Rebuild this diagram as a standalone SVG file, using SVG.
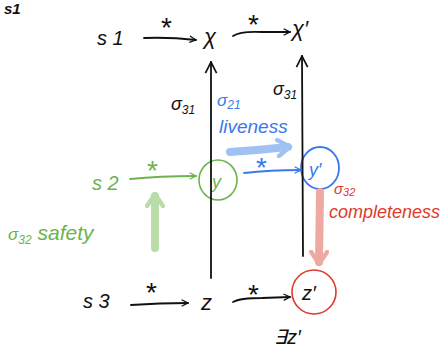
<svg xmlns="http://www.w3.org/2000/svg" width="445" height="352" viewBox="0 0 445 352">
<defs>
<style>
.t{font-family:"Liberation Sans",sans-serif;font-style:italic}
.st{font-family:"Liberation Sans",sans-serif;font-size:28px}
.k{fill:#111}
.g{fill:#6cb44c}
.b{fill:#3a78ec}
.r{fill:#e03a2a}
.ln{fill:none;stroke-width:1.8;stroke-linecap:round;stroke-linejoin:round}
</style>
<marker id="ak" viewBox="0 0 10 10" refX="9" refY="5" markerWidth="8" markerHeight="8" orient="auto" markerUnits="userSpaceOnUse"><path d="M1,1 L9,5 L1,9" fill="none" stroke="#111" stroke-width="1.6"/></marker>
<marker id="akv" viewBox="0 0 10 10" refX="9" refY="5" markerWidth="14" markerHeight="14" orient="auto" markerUnits="userSpaceOnUse"><path d="M1,1 L9,5 L1,9" fill="none" stroke="#111" stroke-width="1.2"/></marker>
<marker id="ag" viewBox="0 0 10 10" refX="9" refY="5" markerWidth="8" markerHeight="8" orient="auto" markerUnits="userSpaceOnUse"><path d="M1,1 L9,5 L1,9" fill="none" stroke="#6cb44c" stroke-width="1.6"/></marker>
<marker id="ab" viewBox="0 0 10 10" refX="9" refY="5" markerWidth="8" markerHeight="8" orient="auto" markerUnits="userSpaceOnUse"><path d="M1,1 L9,5 L1,9" fill="none" stroke="#3a78ec" stroke-width="1.6"/></marker>
<marker id="alb" viewBox="0 0 10 10" refX="6" refY="5" markerWidth="20" markerHeight="20" orient="auto" markerUnits="userSpaceOnUse"><path d="M1,1 L7,5 L1,9" fill="none" stroke="#9fc1f4" stroke-width="2.2" stroke-linecap="round" stroke-linejoin="round"/></marker>
<marker id="alg" viewBox="0 0 10 10" refX="6" refY="5" markerWidth="20" markerHeight="20" orient="auto" markerUnits="userSpaceOnUse"><path d="M1,1 L7,5 L1,9" fill="none" stroke="#b9dca8" stroke-width="2.2" stroke-linecap="round" stroke-linejoin="round"/></marker>
<marker id="alr" viewBox="0 0 10 10" refX="6" refY="5" markerWidth="20" markerHeight="20" orient="auto" markerUnits="userSpaceOnUse"><path d="M1,1 L7,5 L1,9" fill="none" stroke="#eeaaa2" stroke-width="2.2" stroke-linecap="round" stroke-linejoin="round"/></marker>
</defs>
<rect width="445" height="352" fill="#fff"/>

<text class="t k" x="4" y="14" font-size="15" font-weight="bold">s1</text>

<g id="s1"><text class="t k" x="97" y="45" font-size="20">s 1</text></g>
<g id="x"><text class="t k" x="204" y="44" font-size="22">χ</text></g>
<g id="xp"><text class="t k" x="292" y="36" font-size="22">χ′</text></g>
<g id="s2"><text class="t g" x="92" y="190" font-size="20">s 2</text></g>
<g id="y"><ellipse cx="218" cy="180" rx="19" ry="20" fill="none" stroke="#6cb44c" stroke-width="1.6"/><text class="t g" x="212" y="188" font-size="18">y</text></g>
<g id="yp"><ellipse cx="320" cy="168" rx="19" ry="21" fill="none" stroke="#3a78ec" stroke-width="1.8"/><text class="t b" x="309" y="176" font-size="18">y′</text></g>
<g id="s3"><text class="t k" x="83" y="308" font-size="20">s 3</text></g>
<g id="z"><text class="t k" x="201" y="310" font-size="22">z</text></g>
<g id="zp"><circle cx="314" cy="292" r="22" fill="none" stroke="#e03a2a" stroke-width="1.6"/><text class="t k" x="302" y="300" font-size="20">z′</text></g>
<g id="exists"><text class="t k" x="274" y="344" font-size="20">∃z′</text></g>

<g id="labels">
<text class="t k" x="171" y="110" font-size="18">σ<tspan font-size="12" dy="4">31</tspan></text>
<text class="t k" x="273" y="95" font-size="18">σ<tspan font-size="12" dy="4">31</tspan></text>
<text class="t b" x="217" y="106" font-size="17">σ<tspan font-size="12" dy="3">21</tspan></text>
<text class="t b" x="219" y="133" font-size="19">liveness</text>
<text class="t g" x="8" y="240" font-size="17">σ<tspan font-size="12" dy="4">32</tspan><tspan dy="-4" font-size="21"> safety</tspan></text>
<text class="t r" x="334" y="194" font-size="15">σ<tspan font-size="11" dy="2">32</tspan></text>
<text class="t r" x="329" y="218" font-size="19" textLength="111" lengthAdjust="spacingAndGlyphs">completeness</text>
</g>

<g id="connectors">
<path class="ln" d="M144,38 Q170,37 196,40" stroke="#111" marker-end="url(#ak)"/>
<text class="st k" x="161" y="37">*</text>
<path class="ln" d="M233,36 Q240,31 262,32 L290,32" stroke="#111" marker-end="url(#ak)"/>
<text class="st k" x="248" y="34">*</text>

<path class="ln" d="M211,278 L211,62" stroke="#111" stroke-width="1.4" marker-end="url(#akv)"/>
<path class="ln" d="M303,256 L302,56" stroke="#111" stroke-width="1.4" marker-end="url(#akv)"/>

<path class="ln" d="M130,179 Q160,176 196,176" stroke="#6cb44c" marker-end="url(#ag)"/>
<text class="st g" x="147" y="180">*</text>
<path class="ln" d="M244,173 Q270,170 301,170" stroke="#3a78ec" marker-end="url(#ab)"/>
<text class="st b" x="256" y="177">*</text>

<path d="M230,152 Q260,150 288,147" fill="none" stroke="#9fc1f4" stroke-width="8" stroke-linecap="round" marker-end="url(#alb)"/>
<path d="M155,248 L155,196" fill="none" stroke="#b9dca8" stroke-width="8" stroke-linecap="round" marker-end="url(#alg)"/>
<path d="M320,192 L319,262" fill="none" stroke="#eeaaa2" stroke-width="8" stroke-linecap="round" marker-end="url(#alr)"/>

<path class="ln" d="M131,305 Q160,303 188,303" stroke="#111" marker-end="url(#ak)"/>
<text class="st k" x="146" y="302">*</text>
<path class="ln" d="M233,302 Q240,298 262,298 L290,297" stroke="#111" marker-end="url(#ak)"/>
<text class="st k" x="248" y="304">*</text>
</g>
</svg>
